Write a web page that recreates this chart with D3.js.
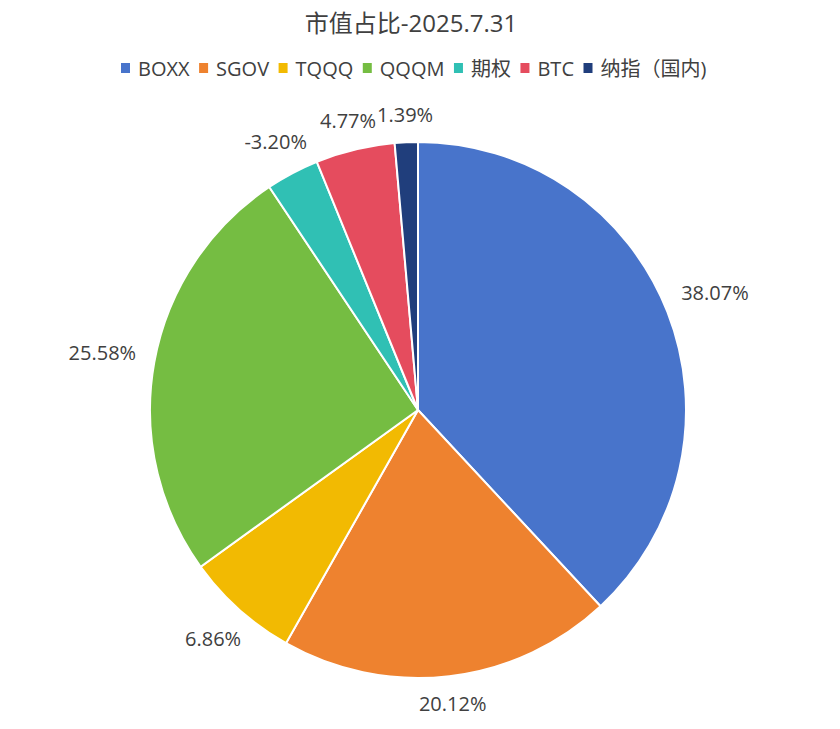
<!DOCTYPE html>
<html>
<head>
<meta charset="utf-8">
<script src="https://cdn.jsdelivr.net/npm/d3@7"></script>
<style>
  body { margin: 0; background: #fff; }
  svg { display: block; font-family: "Open Sans", "Noto Sans CJK SC", sans-serif; }
</style>
</head>
<body>
<svg width="840" height="729"></svg>
<script>
var categories = ["BOXX", "SGOV", "TQQQ", "QQQM", "期权", "BTC", "纳指（国内)"];
var values = [38.07, 20.12, 6.86, 25.58, 3.20, 4.77, 1.39];
var valueLabels = ["38.07%", "20.12%", "6.86%", "25.58%", "-3.20%", "4.77%", "1.39%"];
var colors = ["#4874CB", "#EE822F", "#F2BA02", "#75BD42", "#30C0B4", "#E54C5E", "#203E7C"];

var svg = d3.select("svg");
var cx = 418, cy = 410, radius = 268;

svg.append("text")
  .attr("x", 411)
  .attr("y", 32)
  .attr("text-anchor", "middle")
  .attr("font-size", 24)
  .attr("fill", "#404040")
  .text("市值占比-2025.7.31");

// legend
var legend = svg.append("g").attr("transform", "translate(121,69)");
var lx = 0;
categories.forEach(function(c, i) {
  var g = legend.append("g").attr("transform", "translate(" + lx + ",0)");
  g.append("rect")
    .attr("x", 0).attr("y", -6)
    .attr("width", 9).attr("height", 10)
    .attr("fill", colors[i]);
  var t = g.append("text")
    .attr("x", 17)
    .attr("y", 7)
    .attr("font-size", 20)
    .attr("fill", "#404040")
    .text(c);
  lx += 17 + t.node().getComputedTextLength() + 9.5;
});

var pie = d3.pie().sort(null).value(function(d) { return d; });
var arc = d3.arc().innerRadius(0).outerRadius(radius);
var arcs = pie(values);

var chart = svg.append("g").attr("transform", "translate(" + cx + "," + cy + ")");

chart.selectAll("path")
  .data(arcs)
  .enter().append("path")
  .attr("d", arc)
  .attr("fill", function(d, i) { return colors[i]; })
  .attr("stroke", "#fff")
  .attr("stroke-width", 2);

// labels outside each slice, pushed out by the label's own half size
var hh = 8, gap = 19.5;
chart.selectAll(".lbl")
  .data(arcs)
  .enter().append("text")
  .attr("class", "lbl")
  .attr("font-size", 20)
  .attr("fill", "#404040")
  .attr("text-anchor", "middle")
  .attr("dy", "0.35em")
  .text(function(d, i) { return valueLabels[i]; })
  .attr("transform", function(d) {
    var hw = this.getComputedTextLength() / 2;
    var a = (d.startAngle + d.endAngle) / 2;
    var ux = Math.sin(a), uy = -Math.cos(a);
    var dist = radius + gap + Math.sqrt(Math.pow(ux * hw, 2) + Math.pow(uy * hh, 2));
    return "translate(" + (ux * dist) + "," + (uy * dist) + ")";
  });
</script>
</body>
</html>
